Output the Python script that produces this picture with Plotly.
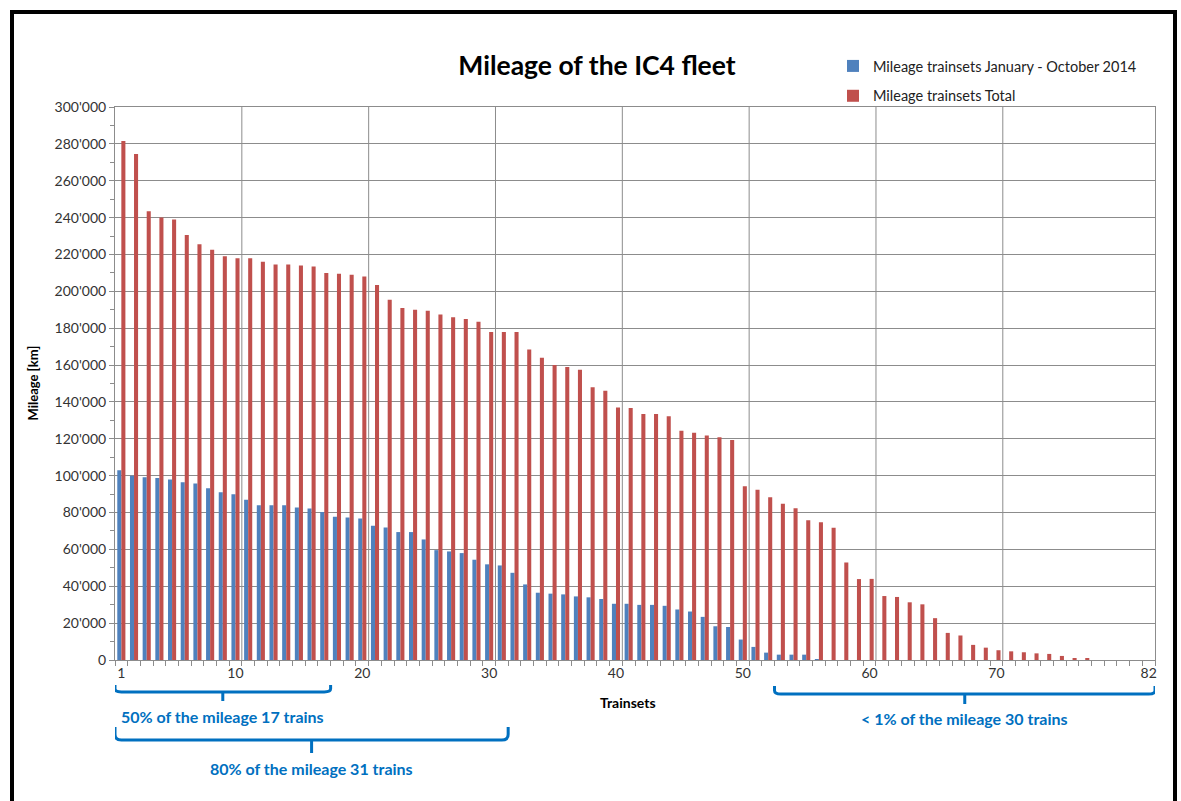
import plotly.graph_objects as go

# ---------------- data ----------------
trainsets = list(range(1, 83))

mileage_2014 = [
    103000, 100000, 99200, 98800, 97900, 96400, 95800, 93200, 91000, 89900,
    86900, 84000, 84000, 84000, 82700, 82200, 80300, 77700, 77300, 76800,
    72800, 71900, 69400, 69400, 65400, 59600, 58900, 58000, 54400, 51900,
    51300, 47300, 41000, 36500, 36000, 35600, 34500, 34000, 33100, 30500,
    30500, 29900, 29900, 29400, 27400, 26300, 23400, 18300, 17900, 11100,
    7100, 4000, 2900, 2900, 2900, 500, 0, 0, 0, 0,
    0, 0, 0, 0, 0, 0, 0, 0, 0, 0,
    0, 0, 0, 0, 0, 0, 0, 0, 0, 0,
    0, 0,
]

mileage_total = [
    281500, 274500, 243500, 240000, 239000, 230500, 225500, 222500, 219000, 218000,
    218000, 216000, 214500, 214500, 214000, 213500, 210000, 209500, 209000, 208000,
    203500, 195500, 191000, 190000, 189500, 187500, 186000, 185000, 183500, 178000,
    178000, 178000, 168500, 164000, 160000, 159000, 157500, 148000, 146000, 137000,
    136700, 133400, 133400, 132300, 124400, 123300, 121800, 120900, 119300, 94300,
    92300, 88300, 84800, 82300, 75800, 74700, 71800, 52900, 43900, 44000,
    34700, 34200, 31300, 30200, 22700, 14700, 13300, 8200, 6700, 5300,
    4700, 4200, 3600, 3300, 2200, 700, 700, 0, 0, 0,
    0, 0,
]

x_tick_vals = [1, 10, 20, 30, 40, 50, 60, 70, 82]
y_tick_vals = list(range(0, 300001, 20000))

series_names = ["Mileage trainsets January - October 2014", "Mileage trainsets Total"]
series_colors = ["#4F81BD", "#C0504D"]

# groups of trains highlighted under the axis: (first train, number of trains, label)
groups = [
    (1, 17, "50% of the mileage 17 trains"),
    (1, 31, "80% of the mileage 31 trains"),
    (53, 30, "< 1% of the mileage 30 trains"),
]

# ---------------- layout geometry (pixels) ----------------
W, H = 1181, 801
L, R, T, B = 115, 26, 107, 141
PW, PH = W - L - R, H - T - B


def py(p):
    """pixel y -> paper y"""
    return (H - B - p) / PH


def px(p):
    """pixel x -> paper x"""
    return (p - L) / PW


FONT = "Lato"
BLUE_TXT = "#0070C0"
GRID = "#8C8C8C"

fig = go.Figure()
for name, vals, col in zip(series_names, [mileage_2014, mileage_total], series_colors):
    fig.add_trace(go.Bar(
        x=trainsets, y=vals, name=name,
        marker=dict(color=col, line=dict(width=0)),
        legendgroup=name,
    ))

shapes = []
# vertical grid lines every 10 trainsets (between categories)
for v in range(10, 71, 10):
    shapes.append(dict(type="line", xref="x", yref="paper", x0=v + 0.5, x1=v + 0.5,
                       y0=0, y1=1, line=dict(color=GRID, width=1), layer="below"))

annotations = []
brace_geo = [  # (top px, horizontal px, tip px, text px)
    (685, 692, 701, 716),
    (727, 740, 753, 768),
    (686, 694, 704, 718),
]
for (start, n, label), (yt, yh, ytip, ytxt) in zip(groups, brace_geo):
    x0 = start - 0.5
    x1 = start + n - 0.5
    xm = (x0 + x1) / 2
    r = 0.5
    yT, yH, yTip = py(yt), py(yh), py(ytip)
    dy = (yT - yH) * 0.45
    path = (f"M{x0},{yT} L{x0},{yH + dy} Q{x0},{yH} {x0 + r},{yH} "
            f"L{x1 - r},{yH} Q{x1},{yH} {x1},{yH + dy} L{x1},{yT} "
            f"M{xm},{yH} L{xm},{yTip}")
    shapes.append(dict(type="path", xref="x", yref="paper", path=path,
                       line=dict(color=BLUE_TXT, width=3)))
    annotations.append(dict(xref="x", yref="paper", x=xm, y=py(ytxt), text=f"<b>{label}</b>",
                            showarrow=False, font=dict(family=FONT, size=16, color=BLUE_TXT),
                            xanchor="center", yanchor="middle"))

# outer black frame
shapes.append(dict(type="rect", xref="paper", yref="paper",
                   x0=px(12), x1=px(1175), y0=py(830), y1=py(12),
                   line=dict(color="black", width=4), fillcolor="rgba(0,0,0,0)"))

# axis titles
annotations.append(dict(xref="paper", yref="paper", x=px(628), y=py(702), text="<b>Trainsets</b>",
                        showarrow=False, font=dict(family=FONT, size=14, color="black"),
                        xanchor="center", yanchor="middle"))
annotations.append(dict(xref="paper", yref="paper", x=px(32), y=0.5, text="<b>Mileage [km]</b>",
                        showarrow=False, textangle=-90, font=dict(family=FONT, size=13, color="black"),
                        xanchor="center", yanchor="middle"))

fig.update_layout(
    width=W, height=H,
    margin=dict(l=L, r=R, t=T, b=B, autoexpand=False),
    paper_bgcolor="white", plot_bgcolor="white",
    separators=".'",
    barmode="group", bargap=0.36, bargroupgap=0,
    font=dict(family=FONT, size=14, color="#333333"),
    title=dict(text="<b>Mileage of the IC4 fleet</b>", xref="container", yref="container",
               x=597 / W, y=1 - 66 / H, xanchor="center", yanchor="middle",
               font=dict(family=FONT, size=26.5, color="black")),
    legend=dict(x=px(833), y=py(50), xanchor="left", yanchor="top",
                font=dict(family=FONT, size=14.5, color="#222222"),
                bgcolor="rgba(0,0,0,0)", tracegroupgap=8, itemwidth=30),
    xaxis=dict(range=[0.5, 82.5], tickmode="array", tickvals=x_tick_vals,
               ticks="", showgrid=False, zeroline=False,
               showline=True, linecolor=GRID, linewidth=1, mirror=True,
               tickfont=dict(family=FONT, size=14, color="#333333"),
               minor=dict(tick0=0.5, dtick=1, ticks="outside", ticklen=5,
                          tickcolor=GRID, showgrid=False)),
    yaxis=dict(range=[0, 300000], tickmode="array", tickvals=y_tick_vals, tickformat=",d",
               ticks="outside", ticklen=5, tickcolor=GRID,
               showgrid=True, gridcolor=GRID, gridwidth=1, zeroline=False,
               showline=True, linecolor=GRID, linewidth=1, mirror=True,
               tickfont=dict(family=FONT, size=14, color="#333333"),
               minor=dict(tick0=0, dtick=10000, ticks="outside", ticklen=4,
                          tickcolor=GRID, showgrid=False)),
    shapes=shapes,
    annotations=annotations,
)

fig.write_html("out.html", config={"displayModeBar": False},
               post_script="document.body.style.margin='0';")
